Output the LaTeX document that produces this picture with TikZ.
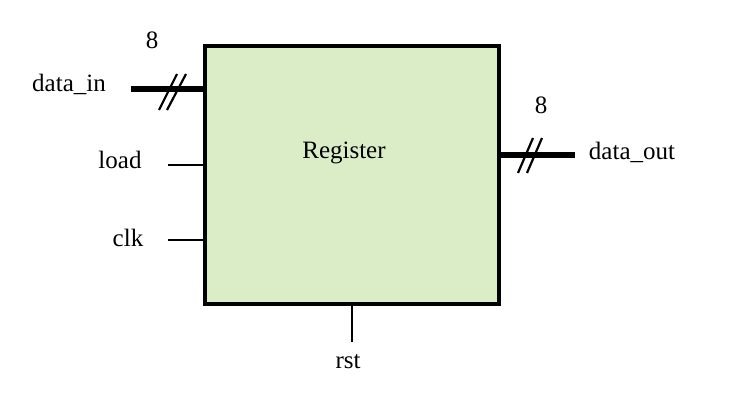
\documentclass[tikz,border=0pt]{standalone}
\usepackage{fontspec}
\setmainfont{Liberation Serif}
\definecolor{regfill}{RGB}{218,237,199}
\begin{document}
\begin{tikzpicture}[x=1pt,y=-1pt,
  lbl/.style={font=\fontsize{25}{30}\selectfont, inner sep=0pt},
  bus/.style={line width=6pt},
  wire/.style={line width=2.2pt},
  slash/.style={line width=2.2pt}]
\useasboundingbox (0,0) rectangle (733,401);
\node[draw, line width=3.3pt, fill=regfill, minimum width=294pt, minimum height=258pt, inner sep=0pt] (reg) at (352,175) {};
\node[lbl] (regtxt) at (344,153) {Register};
% data_in
\coordinate (din) at (131,89);
\draw[bus] (din) -- (reg.west |- din);
\draw[slash] (159,110) -- (177,74);
\draw[slash] (167,110) -- (186,74);
\node[lbl] (dinlbl) at (69,84) {data\_in};
\node[lbl] (din8) at (152,40) {8};
% load
\coordinate (ld) at (168,165);
\draw[wire] (ld) -- (reg.west |- ld);
\node[lbl] (ldlbl) at (120,160) {load};
% clk
\coordinate (ck) at (168,240);
\draw[wire] (ck) -- (reg.west |- ck);
\node[lbl] (cklbl) at (128,238) {clk};
% data_out
\coordinate (dout) at (575,155);
\draw[bus] (reg.east |- dout) -- (dout);
\draw[slash] (518,173) -- (533,138);
\draw[slash] (527,173) -- (542,138);
\node[lbl] (doutlbl) at (632,152) {data\_out};
\node[lbl] (dout8) at (541,105) {8};
% rst
\coordinate (rs) at (352,342);
\draw[wire] (reg.south) -- (rs);
\node[lbl] (rslbl) at (348,362) {rst};
\end{tikzpicture}
\end{document}
